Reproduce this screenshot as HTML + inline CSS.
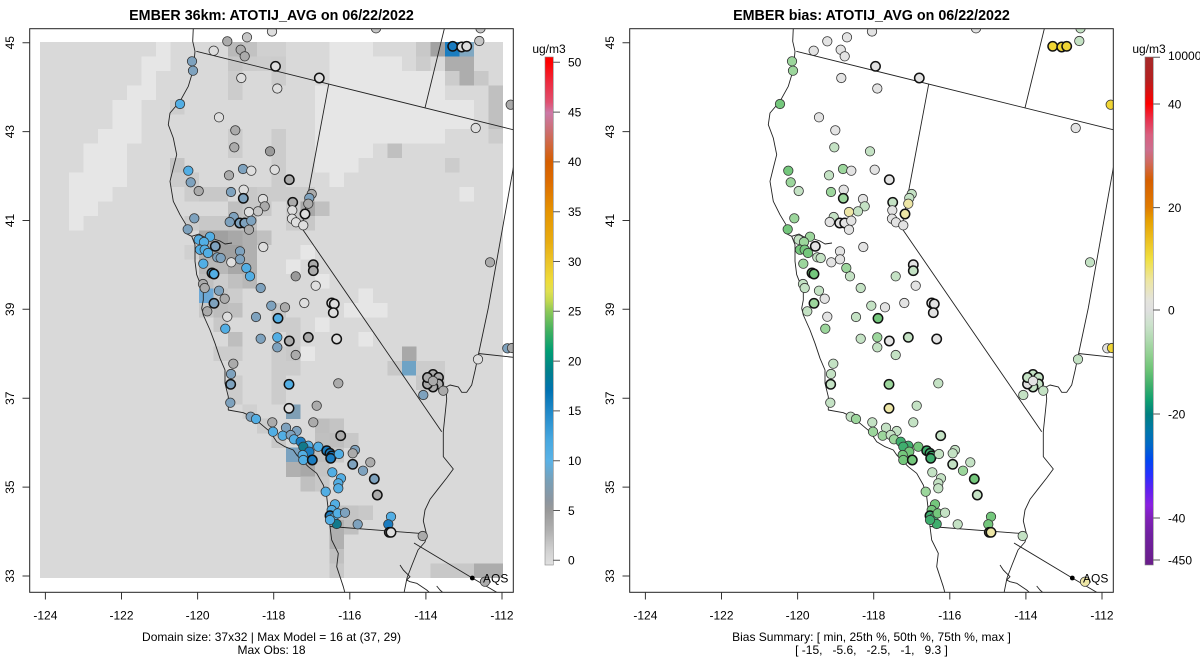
<!DOCTYPE html>
<html><head><meta charset="utf-8"><style>
html,body{margin:0;padding:0;background:#fff}
svg{display:block;font-family:"Liberation Sans",Arial,sans-serif}
circle{stroke:#333;stroke-width:.8}
.k{stroke:#111;stroke-width:1.5}
.a{fill:#9A9A9A}.b{fill:#ABABAB}.c{fill:#C6C6C6}.d{fill:#DEDEDE}.e{fill:#7EA2BE}.f{fill:#52AEE4}.h{fill:#1A7CC0}.t{fill:#127A8C}
.w{fill:#E3E3E3}.l{fill:#C4E2C4}.m{fill:#9CD69C}.n{fill:#74C77C}.o{fill:#3FAE6E}.y{fill:#EDE6A6}.Y{fill:#F0D535}
.map{fill:none;stroke:#222;stroke-width:.9;stroke-linejoin:round}
.tk{stroke:#333;stroke-width:1}
text{font-size:12px;fill:#000}
.ttl{font-size:14.3px;font-weight:bold}
</style></head><body>
<svg width="1200" height="672" viewBox="0 0 1200 672" xmlns="http://www.w3.org/2000/svg">
<defs>
<clipPath id="cl"><rect x="29.7" y="28.7" width="483.6" height="563.6"/></clipPath>
<clipPath id="cr"><rect x="629.7" y="28.7" width="483.6" height="563.6"/></clipPath>
<linearGradient id="gL" x1="0" y1="0" x2="0" y2="1">
<stop offset="0" stop-color="#FF0000"/><stop offset="0.0104" stop-color="#FF0000"/>
<stop offset="0.049" stop-color="#EE2A3E"/><stop offset="0.089" stop-color="#E05070"/>
<stop offset="0.11" stop-color="#CC79A7"/><stop offset="0.147" stop-color="#CC6E6E"/>
<stop offset="0.206" stop-color="#D55E00"/><stop offset="0.2457" stop-color="#DD6C00"/>
<stop offset="0.3045" stop-color="#E69400"/><stop offset="0.3634" stop-color="#E8AC10"/>
<stop offset="0.4026" stop-color="#ECC428"/><stop offset="0.4417" stop-color="#EEDC3A"/>
<stop offset="0.4614" stop-color="#E0E050"/><stop offset="0.481" stop-color="#C0D850"/>
<stop offset="0.5006" stop-color="#8CC858"/><stop offset="0.5398" stop-color="#40B060"/>
<stop offset="0.579" stop-color="#009E73"/><stop offset="0.6183" stop-color="#00808C"/>
<stop offset="0.6575" stop-color="#0072B2"/><stop offset="0.6967" stop-color="#1F88C8"/>
<stop offset="0.7555" stop-color="#48A8E0"/><stop offset="0.7947" stop-color="#5AB2E6"/>
<stop offset="0.834" stop-color="#78A0B8"/><stop offset="0.873" stop-color="#8C96A0"/>
<stop offset="0.8927" stop-color="#999999"/><stop offset="0.932" stop-color="#B0B0B0"/>
<stop offset="0.971" stop-color="#D0D0D0"/><stop offset="1" stop-color="#E0E0E0"/>
</linearGradient>
<linearGradient id="gR" x1="0" y1="0" x2="0" y2="1">
<stop offset="0" stop-color="#A52A2A"/><stop offset="0.045" stop-color="#B52020"/>
<stop offset="0.0925" stop-color="#FF0000"/><stop offset="0.124" stop-color="#E8334F"/>
<stop offset="0.154" stop-color="#D86080"/><stop offset="0.183" stop-color="#CC6E8E"/>
<stop offset="0.207" stop-color="#D06A60"/><stop offset="0.242" stop-color="#D55E00"/>
<stop offset="0.295" stop-color="#E07A00"/><stop offset="0.321" stop-color="#E69F00"/>
<stop offset="0.36" stop-color="#ECC020"/><stop offset="0.398" stop-color="#F0E040"/>
<stop offset="0.439" stop-color="#EEE6A0"/><stop offset="0.478" stop-color="#E4E4DC"/>
<stop offset="0.498" stop-color="#E0E0E0"/><stop offset="0.5275" stop-color="#CCE2CC"/>
<stop offset="0.557" stop-color="#B0DAB0"/><stop offset="0.587" stop-color="#90D090"/>
<stop offset="0.616" stop-color="#6CC476"/><stop offset="0.646" stop-color="#40B06C"/>
<stop offset="0.675" stop-color="#10A070"/><stop offset="0.703" stop-color="#008080"/>
<stop offset="0.734" stop-color="#0078A8"/><stop offset="0.764" stop-color="#0068C8"/>
<stop offset="0.793" stop-color="#0048F0"/><stop offset="0.823" stop-color="#2830FF"/>
<stop offset="0.852" stop-color="#6020F0"/><stop offset="0.882" stop-color="#8A20E0"/>
<stop offset="0.9075" stop-color="#8020B8"/><stop offset="0.941" stop-color="#7020A0"/>
<stop offset="1" stop-color="#6A1E8A"/>
</linearGradient>
</defs>

<text class="ttl" x="271.5" y="20" text-anchor="middle">EMBER 36km: ATOTIJ_AVG on 06/22/2022</text>
<text class="ttl" x="871.5" y="20" text-anchor="middle">EMBER bias: ATOTIJ_AVG on 06/22/2022</text>

<g shape-rendering="crispEdges">
<rect x="40" y="42" width="463.1" height="536.2" fill="#D9D9D9"/>
<g fill="#E6E6E6">
<rect x="155.76" y="42" width="14.5" height="14.55"/>
<rect x="141.29" y="56.49" width="28.97" height="14.55"/>
<rect x="141.29" y="70.98" width="14.5" height="14.55"/>
<rect x="126.82" y="85.47" width="28.97" height="14.55"/>
<rect x="112.35" y="99.96" width="28.97" height="29.03"/>
<rect x="97.88" y="128.94" width="43.44" height="14.55"/>
<rect x="83.41" y="143.43" width="43.44" height="29.03"/>
<rect x="68.94" y="172.41" width="57.91" height="14.55"/>
<rect x="68.94" y="186.9" width="43.44" height="14.55"/>
<rect x="68.94" y="201.39" width="28.97" height="14.55"/>
<rect x="68.94" y="215.88" width="14.5" height="14.55"/>
<rect x="329.4" y="42" width="43.44" height="14.55"/>
<rect x="329.4" y="56.49" width="72.38" height="14.55"/>
<rect x="329.4" y="70.98" width="115.79" height="14.55"/>
<rect x="314.93" y="85.47" width="130.26" height="14.55"/>
<rect x="314.93" y="99.96" width="159.2" height="29.03"/>
<rect x="314.93" y="128.94" width="130.26" height="14.55"/>
<rect x="314.93" y="143.43" width="57.91" height="14.55"/>
<rect x="314.93" y="157.92" width="43.44" height="14.55"/>
<rect x="329.4" y="172.41" width="14.5" height="14.55"/>
<rect x="459.63" y="186.9" width="14.5" height="14.55"/>
<rect x="300.46" y="244.86" width="14.5" height="14.55"/>
<rect x="285.99" y="259.35" width="14.5" height="14.55"/>
<rect x="314.93" y="273.84" width="14.5" height="14.55"/>
<rect x="358.34" y="288.33" width="14.5" height="14.55"/>
<rect x="343.87" y="302.82" width="43.44" height="14.55"/>
<rect x="314.93" y="317.31" width="14.5" height="14.55"/>
<rect x="358.34" y="331.8" width="14.5" height="14.55"/>
<rect x="300.46" y="346.29" width="14.5" height="14.55"/>
</g>
<g>
<rect x="228.11" y="42" width="14.5" height="14.55" fill="#B9B9B9"/>
<rect x="242.58" y="42" width="14.5" height="14.55" fill="#C2C2C2"/>
<rect x="257.05" y="42" width="14.5" height="14.55" fill="#D0D0D0"/>
<rect x="271.52" y="42" width="14.5" height="14.55" fill="#D0D0D0"/>
<rect x="228.11" y="56.49" width="14.5" height="14.55" fill="#C6C6C6"/>
<rect x="242.58" y="56.49" width="14.5" height="14.55" fill="#CCCCCC"/>
<rect x="257.05" y="56.49" width="14.5" height="14.55" fill="#CDCDCD"/>
<rect x="271.52" y="56.49" width="14.5" height="14.55" fill="#CCCCCC"/>
<rect x="228.11" y="70.98" width="14.5" height="14.55" fill="#CCCCCC"/>
<rect x="271.52" y="70.98" width="14.5" height="14.55" fill="#CCCCCC"/>
<rect x="228.11" y="85.47" width="14.5" height="14.55" fill="#CCCCCC"/>
<rect x="416.22" y="42" width="14.5" height="14.55" fill="#C8C8C8"/>
<rect x="430.69" y="42" width="14.5" height="14.55" fill="#A2A2A2"/>
<rect x="445.16" y="42" width="14.5" height="14.55" fill="#1A7DC0"/>
<rect x="459.63" y="42" width="14.5" height="14.55" fill="#80A8C2"/>
<rect x="416.22" y="56.49" width="14.5" height="14.55" fill="#CCCCCC"/>
<rect x="445.16" y="56.49" width="29" height="14.55" fill="#ADADAD"/>
<rect x="445.16" y="70.98" width="14.5" height="14.55" fill="#CCCCCC"/>
<rect x="459.63" y="70.98" width="14.5" height="14.55" fill="#ADADAD"/>
<rect x="474.1" y="70.98" width="14.5" height="14.55" fill="#C8C8C8"/>
<rect x="488.57" y="85.47" width="14.5" height="43.5" fill="#C0C0C0"/>
<rect x="488.57" y="128.94" width="14.5" height="14.55" fill="#CCCCCC"/>
<rect x="387.28" y="143.43" width="14.5" height="14.55" fill="#C0C0C0"/>
<rect x="445.16" y="157.92" width="14.5" height="14.55" fill="#CCCCCC"/>
<rect x="170.23" y="99.96" width="14.5" height="14.55" fill="#CDCDCD"/>
<rect x="170.23" y="157.92" width="14.5" height="14.55" fill="#C4C4C4"/>
<rect x="170.23" y="172.41" width="14.5" height="14.55" fill="#CCCCCC"/>
<rect x="228.11" y="128.94" width="14.5" height="29" fill="#CCCCCC"/>
<rect x="184.7" y="172.41" width="14.5" height="29" fill="#CCCCCC"/>
<rect x="199.17" y="186.9" width="29" height="14.55" fill="#C8C8C8"/>
<rect x="242.58" y="186.9" width="14.5" height="14.55" fill="#C8C8C8"/>
<rect x="257.05" y="186.9" width="14.5" height="14.55" fill="#CCCCCC"/>
<rect x="228.11" y="201.39" width="14.5" height="14.55" fill="#C0C0C0"/>
<rect x="242.58" y="201.39" width="29" height="14.55" fill="#C8C8C8"/>
<rect x="228.11" y="215.88" width="14.5" height="14.55" fill="#C4C4C4"/>
<rect x="242.58" y="215.88" width="14.5" height="14.55" fill="#C0C0C0"/>
<rect x="271.52" y="128.94" width="14.5" height="72.5" fill="#CCCCCC"/>
<rect x="285.99" y="186.9" width="29" height="14.55" fill="#CCCCCC"/>
<rect x="285.99" y="201.39" width="14.5" height="29" fill="#CCCCCC"/>
<rect x="300.46" y="201.39" width="14.5" height="14.55" fill="#A8A8A8"/>
<rect x="314.93" y="201.39" width="14.5" height="14.55" fill="#C0C0C0"/>
<rect x="300.46" y="215.88" width="14.5" height="14.55" fill="#C8C8C8"/>
<rect x="184.7" y="215.88" width="14.5" height="14.55" fill="#CCCCCC"/>
<rect x="199.17" y="215.88" width="29" height="14.55" fill="#C8C8C8"/>
<rect x="199.17" y="230.37" width="14.5" height="14.55" fill="#A8A8A8"/>
<rect x="213.64" y="230.37" width="14.5" height="14.55" fill="#A0A0A0"/>
<rect x="228.11" y="230.37" width="14.5" height="14.55" fill="#A8A8A8"/>
<rect x="242.58" y="230.37" width="14.5" height="14.55" fill="#B0B0B0"/>
<rect x="257.05" y="230.37" width="14.5" height="14.55" fill="#C0C0C0"/>
<rect x="184.7" y="244.86" width="14.5" height="14.55" fill="#D0D0D0"/>
<rect x="199.17" y="244.86" width="14.5" height="14.55" fill="#B0B0B0"/>
<rect x="213.64" y="244.86" width="29" height="14.55" fill="#A0A0A0"/>
<rect x="242.58" y="244.86" width="14.5" height="14.55" fill="#B0B0B0"/>
<rect x="199.17" y="259.35" width="29" height="14.55" fill="#B8B8B8"/>
<rect x="228.11" y="259.35" width="14.5" height="14.55" fill="#A8A8A8"/>
<rect x="242.58" y="259.35" width="14.5" height="14.55" fill="#B0B0B0"/>
<rect x="199.17" y="273.84" width="14.5" height="14.55" fill="#C0C0C0"/>
<rect x="213.64" y="273.84" width="14.5" height="14.55" fill="#CCCCCC"/>
<rect x="228.11" y="273.84" width="14.5" height="14.55" fill="#C0C0C0"/>
<rect x="242.58" y="273.84" width="14.5" height="14.55" fill="#B8B8B8"/>
<rect x="199.17" y="288.33" width="14.5" height="14.55" fill="#6CA8D6"/>
<rect x="213.64" y="288.33" width="14.5" height="14.55" fill="#C8C8C8"/>
<rect x="228.11" y="288.33" width="14.5" height="14.55" fill="#CCCCCC"/>
<rect x="199.17" y="302.82" width="14.5" height="14.55" fill="#C8C8C8"/>
<rect x="213.64" y="302.82" width="14.5" height="14.55" fill="#BDBDBD"/>
<rect x="228.11" y="302.82" width="14.5" height="14.55" fill="#C0C0C0"/>
<rect x="271.52" y="302.82" width="14.5" height="14.55" fill="#C8C8C8"/>
<rect x="213.64" y="317.31" width="14.5" height="14.55" fill="#C8C8C8"/>
<rect x="271.52" y="317.31" width="29" height="14.55" fill="#CCCCCC"/>
<rect x="228.11" y="331.8" width="14.5" height="14.55" fill="#BEBEBE"/>
<rect x="285.99" y="331.8" width="14.5" height="14.55" fill="#CCCCCC"/>
<rect x="213.64" y="346.29" width="29" height="14.55" fill="#CCCCCC"/>
<rect x="271.52" y="346.29" width="14.5" height="14.55" fill="#CCCCCC"/>
<rect x="285.99" y="346.29" width="14.5" height="14.55" fill="#C8C8C8"/>
<rect x="401.75" y="346.29" width="14.5" height="14.55" fill="#A8A8A8"/>
<rect x="271.52" y="360.78" width="29" height="14.55" fill="#CCCCCC"/>
<rect x="387.28" y="360.78" width="14.5" height="14.55" fill="#C8C8C8"/>
<rect x="401.75" y="360.78" width="14.5" height="14.55" fill="#6FA3C5"/>
<rect x="416.22" y="360.78" width="29" height="14.55" fill="#CCCCCC"/>
<rect x="228.11" y="375.27" width="14.5" height="29" fill="#CCCCCC"/>
<rect x="271.52" y="375.27" width="14.5" height="29" fill="#CCCCCC"/>
<rect x="416.22" y="375.27" width="29" height="14.55" fill="#C8C8C8"/>
<rect x="242.58" y="404.25" width="14.5" height="14.55" fill="#D0D0D0"/>
<rect x="285.99" y="404.25" width="14.5" height="14.55" fill="#7F9FB5"/>
<rect x="257.05" y="418.74" width="14.5" height="14.55" fill="#CCCCCC"/>
<rect x="314.93" y="418.74" width="14.5" height="14.55" fill="#BEBEBE"/>
<rect x="329.4" y="418.74" width="14.5" height="14.55" fill="#C4C4C4"/>
<rect x="271.52" y="433.23" width="14.5" height="14.55" fill="#C8C8C8"/>
<rect x="314.93" y="433.23" width="14.5" height="14.55" fill="#C0C0C0"/>
<rect x="329.4" y="433.23" width="14.5" height="14.55" fill="#BEBEBE"/>
<rect x="343.87" y="433.23" width="14.5" height="14.55" fill="#C8C8C8"/>
<rect x="285.99" y="447.72" width="14.5" height="14.55" fill="#7AA2C0"/>
<rect x="300.46" y="447.72" width="14.5" height="29" fill="#A8A8A8"/>
<rect x="314.93" y="447.72" width="14.5" height="14.55" fill="#BEBEBE"/>
<rect x="329.4" y="447.72" width="14.5" height="14.55" fill="#C8C8C8"/>
<rect x="285.99" y="462.21" width="14.5" height="14.55" fill="#B0B0B0"/>
<rect x="314.93" y="462.21" width="14.5" height="14.55" fill="#C4C4C4"/>
<rect x="300.46" y="476.7" width="14.5" height="14.55" fill="#C0C0C0"/>
<rect x="314.93" y="476.7" width="14.5" height="14.55" fill="#C8C8C8"/>
<rect x="329.4" y="505.68" width="14.5" height="14.55" fill="#C0C0C0"/>
<rect x="343.87" y="505.68" width="14.5" height="14.55" fill="#C4C4C4"/>
<rect x="358.34" y="505.68" width="14.5" height="14.55" fill="#C8C8C8"/>
<rect x="329.4" y="520.17" width="14.5" height="29" fill="#B0B0B0"/>
<rect x="343.87" y="520.17" width="14.5" height="14.55" fill="#C0C0C0"/>
<rect x="329.4" y="549.15" width="14.5" height="14.55" fill="#C0C0C0"/>
<rect x="329.4" y="563.64" width="14.5" height="14.5" fill="#C8C8C8"/>
<rect x="430.69" y="563.64" width="43.45" height="14.5" fill="#C8C8C8"/>
<rect x="474.1" y="563.64" width="28.95" height="14.5" fill="#ACACAC"/>
</g>
</g>

<g clip-path="url(#cl)" class="map">
<path d="M193.3,28 L192.7,41.3 L195,51.3 L193.3,69.7 L188.3,86.3 L180,101.3 L170,113 L168.3,124.7 L173.3,138 L176.7,154.7 L173.3,168 L170,181.3 L173.3,201.3 L180,214.7 L186,224.7 L185,233 L191.7,236.3 L195,244.7 L195,261.3 L196.7,274.7 L203.3,291.3 L203.3,300 L201.7,308.3 L203.3,315 L210,330 L215,343.3 L220,358.3 L225,370 L225,383.3 L228.3,396.7 L228.3,410 L243.3,412.7 L251.7,416.7 L260,423.3 L270,431.7 L276.7,441.7 L285,446.7 L293.3,450 L296.7,455 L308.3,466.7 L316.7,473.3 L323.3,485 L326.7,496.7 L328.3,510 L330,526.7 L331.7,540 L338.3,553.3 L336.7,566.7 L343.3,586.7 L345,593"/>
<path d="M191.7,236.3 L199,234 L204,237 L210,235 L214,239 L220,241 L225,244 L232,243 M204,237 L206,244 L211,250 L208,254"/>
<path d="M196.3,51.3 L514,129.9 M328.7,84.1 L301.7,228 L441.7,431.7 M425,107.9 L444.5,28 M514,164 L488.3,308 L478.3,355 M478.3,353.5 L514,357.4"/>
<path d="M478.3,355 L475,370.9 L471.7,385 L466.7,392.3 L461.7,392.3 L458.3,386.9 L450,385 L446,387 L446.7,399 L443.3,431.6 L443.3,456.6 L453.3,469 L446.7,478 L438.3,488.7 L430,499.4 L425,510 L423.3,520.9 L426.7,535 L425,542 L418,550 L412,565 L407,578 L404,593"/>
<path d="M330,526.5 L419,533.3 L425,537 M414,543 L472.3,578 L515,603 M400,565 L403.3,570 L410,576.7 L406.7,580 L410,581.7 L416.7,583.3 L426.7,590 L430,593 M436.7,586 L440,590 L443.3,593"/>
</g>

<g clip-path="url(#cr)"><g transform="translate(600,0)" class="map">
<path d="M193.3,28 L192.7,41.3 L195,51.3 L193.3,69.7 L188.3,86.3 L180,101.3 L170,113 L168.3,124.7 L173.3,138 L176.7,154.7 L173.3,168 L170,181.3 L173.3,201.3 L180,214.7 L186,224.7 L185,233 L191.7,236.3 L195,244.7 L195,261.3 L196.7,274.7 L203.3,291.3 L203.3,300 L201.7,308.3 L203.3,315 L210,330 L215,343.3 L220,358.3 L225,370 L225,383.3 L228.3,396.7 L228.3,410 L243.3,412.7 L251.7,416.7 L260,423.3 L270,431.7 L276.7,441.7 L285,446.7 L293.3,450 L296.7,455 L308.3,466.7 L316.7,473.3 L323.3,485 L326.7,496.7 L328.3,510 L330,526.7 L331.7,540 L338.3,553.3 L336.7,566.7 L343.3,586.7 L345,593"/>
<path d="M191.7,236.3 L199,234 L204,237 L210,235 L214,239 L220,241 L225,244 L232,243 M204,237 L206,244 L211,250 L208,254"/>
<path d="M196.3,51.3 L514,129.9 M328.7,84.1 L301.7,228 L441.7,431.7 M425,107.9 L444.5,28 M514,164 L488.3,308 L478.3,355 M478.3,353.5 L514,357.4"/>
<path d="M478.3,355 L475,370.9 L471.7,385 L466.7,392.3 L461.7,392.3 L458.3,386.9 L450,385 L446,387 L446.7,399 L443.3,431.6 L443.3,456.6 L453.3,469 L446.7,478 L438.3,488.7 L430,499.4 L425,510 L423.3,520.9 L426.7,535 L425,542 L418,550 L412,565 L407,578 L404,593"/>
<path d="M330,526.5 L419,533.3 L425,537 M414,543 L472.3,578 L515,603 M400,565 L403.3,570 L410,576.7 L406.7,580 L410,581.7 L416.7,583.3 L426.7,590 L430,593 M436.7,586 L440,590 L443.3,593"/>
</g></g>

<g clip-path="url(#cl)">
<circle cx="272" cy="31.5" r="4.7" class="d"/>
<circle cx="227.3" cy="41.3" r="4.7" class="b"/>
<circle cx="247" cy="37.3" r="4.7" class="c"/>
<circle cx="213.7" cy="50.7" r="4.7" class="d"/>
<circle cx="240.7" cy="49.7" r="4.7" class="b"/>
<circle cx="244.7" cy="56.3" r="4.7" class="b"/>
<circle cx="275.5" cy="66.3" r="4.7" class="d k"/>
<circle cx="192" cy="61.3" r="4.7" class="e"/>
<circle cx="193" cy="70.7" r="4.7" class="e"/>
<circle cx="241.3" cy="78" r="4.7" class="d"/>
<circle cx="319.3" cy="78" r="4.7" class="d k"/>
<circle cx="277.3" cy="88.5" r="4.7" class="d"/>
<circle cx="180" cy="104" r="4.7" class="f"/>
<circle cx="219" cy="117.3" r="4.7" class="d"/>
<circle cx="235.3" cy="130.3" r="4.7" class="b"/>
<circle cx="234.3" cy="147.3" r="4.7" class="b"/>
<circle cx="270" cy="151.3" r="4.7" class="a"/>
<circle cx="188.3" cy="170.7" r="4.7" class="f"/>
<circle cx="190.7" cy="182.3" r="4.7" class="e"/>
<circle cx="229" cy="175.3" r="4.7" class="b"/>
<circle cx="243" cy="169" r="4.7" class="e"/>
<circle cx="251.3" cy="170.7" r="4.7" class="d"/>
<circle cx="274.7" cy="169.7" r="4.7" class="d"/>
<circle cx="289.3" cy="179.7" r="4.7" class="b k"/>
<circle cx="198.7" cy="191" r="4.7" class="b"/>
<circle cx="231" cy="192" r="4.7" class="e"/>
<circle cx="243.7" cy="189.7" r="4.7" class="d"/>
<circle cx="243.3" cy="198.3" r="4.7" class="e k"/>
<circle cx="263" cy="199" r="4.7" class="d"/>
<circle cx="264.7" cy="206.3" r="4.7" class="b"/>
<circle cx="258" cy="211.3" r="4.7" class="c"/>
<circle cx="249" cy="212" r="4.7" class="d"/>
<circle cx="233.7" cy="217" r="4.7" class="e"/>
<circle cx="229.7" cy="222" r="4.7" class="e"/>
<circle cx="239.7" cy="223" r="4.7" class="e k"/>
<circle cx="244.7" cy="223" r="4.7" class="e k"/>
<circle cx="251.3" cy="220.7" r="4.7" class="e"/>
<circle cx="249" cy="229.7" r="4.7" class="b"/>
<circle cx="311.7" cy="194" r="4.7" class="b"/>
<circle cx="309.3" cy="198" r="4.7" class="e"/>
<circle cx="308.3" cy="203.7" r="4.7" class="b"/>
<circle cx="292.7" cy="202.3" r="4.7" class="b k"/>
<circle cx="292.3" cy="210.3" r="4.7" class="d"/>
<circle cx="305" cy="214" r="4.7" class="d k"/>
<circle cx="292" cy="218.7" r="4.7" class="d"/>
<circle cx="296" cy="222.3" r="4.7" class="d"/>
<circle cx="303.3" cy="225.3" r="4.7" class="d"/>
<circle cx="194.3" cy="218.3" r="4.7" class="e"/>
<circle cx="187.7" cy="229.3" r="4.7" class="e"/>
<circle cx="198.7" cy="239.7" r="4.7" class="f"/>
<circle cx="210" cy="236.7" r="4.7" class="f"/>
<circle cx="204" cy="242" r="4.7" class="f"/>
<circle cx="200" cy="249.7" r="4.7" class="f"/>
<circle cx="204.7" cy="249.7" r="4.7" class="f"/>
<circle cx="208" cy="253" r="4.7" class="f"/>
<circle cx="215.3" cy="246.3" r="4.7" class="e k"/>
<circle cx="217.3" cy="257.3" r="4.7" class="e"/>
<circle cx="220.7" cy="258" r="4.7" class="e"/>
<circle cx="231.3" cy="262.3" r="4.7" class="d"/>
<circle cx="240" cy="251.3" r="4.7" class="e"/>
<circle cx="240" cy="259.3" r="4.7" class="e"/>
<circle cx="263.3" cy="247" r="4.7" class="d"/>
<circle cx="203.3" cy="263.7" r="4.7" class="f"/>
<circle cx="246.3" cy="268" r="4.7" class="f"/>
<circle cx="250" cy="276.3" r="4.7" class="f"/>
<circle cx="212" cy="273" r="4.7" class="f k"/>
<circle cx="214" cy="274" r="4.7" class="f k"/>
<circle cx="203" cy="284" r="4.7" class="b"/>
<circle cx="204.7" cy="288" r="4.7" class="b"/>
<circle cx="219" cy="290.7" r="4.7" class="e"/>
<circle cx="224.7" cy="298.7" r="4.7" class="b"/>
<circle cx="214" cy="303.3" r="4.7" class="e k"/>
<circle cx="260.7" cy="288" r="4.7" class="e"/>
<circle cx="271.3" cy="305.7" r="4.7" class="e"/>
<circle cx="285" cy="307.3" r="4.7" class="b"/>
<circle cx="304.3" cy="303" r="4.7" class="d"/>
<circle cx="313.3" cy="264.7" r="4.7" class="b k"/>
<circle cx="313.3" cy="270.7" r="4.7" class="b k"/>
<circle cx="295.7" cy="276.3" r="4.7" class="a"/>
<circle cx="315.7" cy="285.7" r="4.7" class="d"/>
<circle cx="331.7" cy="303" r="4.7" class="d k"/>
<circle cx="334.3" cy="304" r="4.7" class="d k"/>
<circle cx="333.3" cy="312.7" r="4.7" class="d k"/>
<circle cx="376" cy="28.3" r="4.7" class="c"/>
<circle cx="480.5" cy="28.3" r="4.7" class="c"/>
<circle cx="479.3" cy="41" r="4.7" class="c"/>
<circle cx="452.7" cy="46.3" r="4.7" class="h k"/>
<circle cx="461.7" cy="47" r="4.7" class="d k"/>
<circle cx="466.7" cy="46.3" r="4.7" class="d k"/>
<circle cx="510.7" cy="104.7" r="4.7" class="b"/>
<circle cx="475.7" cy="128" r="4.7" class="d"/>
<circle cx="490" cy="262.3" r="4.7" class="b"/>
<circle cx="507.3" cy="348.3" r="4.7" class="e"/>
<circle cx="512" cy="348" r="4.7" class="b"/>
<circle cx="478" cy="359.3" r="4.7" class="d"/>
<circle cx="433" cy="374.5" r="4.7" class="b k"/>
<circle cx="438.5" cy="377.5" r="4.7" class="b k"/>
<circle cx="438.5" cy="384" r="4.7" class="b k"/>
<circle cx="433" cy="387" r="4.7" class="b k"/>
<circle cx="427.5" cy="384" r="4.7" class="b k"/>
<circle cx="427.5" cy="377.5" r="4.7" class="b k"/>
<circle cx="433" cy="381" r="4.7" class="b"/>
<circle cx="423.3" cy="395" r="4.7" class="e"/>
<circle cx="443.3" cy="390.7" r="4.7" class="b"/>
<circle cx="422.7" cy="536" r="4.7" class="b"/>
<circle cx="485" cy="581.7" r="4.7" class="b"/>
<circle cx="207.3" cy="311.3" r="4.7" class="b"/>
<circle cx="227.3" cy="316.7" r="4.7" class="d"/>
<circle cx="256" cy="317" r="4.7" class="e"/>
<circle cx="278" cy="318.3" r="4.7" class="f k"/>
<circle cx="225.3" cy="328.7" r="4.7" class="f"/>
<circle cx="260.7" cy="338.7" r="4.7" class="e"/>
<circle cx="277.3" cy="337.3" r="4.7" class="f"/>
<circle cx="277.3" cy="347.3" r="4.7" class="e"/>
<circle cx="233.3" cy="363.7" r="4.7" class="b"/>
<circle cx="231" cy="374" r="4.7" class="e"/>
<circle cx="230.7" cy="384.3" r="4.7" class="e k"/>
<circle cx="230.3" cy="402.7" r="4.7" class="e"/>
<circle cx="250.7" cy="416.7" r="4.7" class="e"/>
<circle cx="256" cy="419" r="4.7" class="f"/>
<circle cx="272.3" cy="422.3" r="4.7" class="b"/>
<circle cx="273" cy="431.7" r="4.7" class="f"/>
<circle cx="289.3" cy="341" r="4.7" class="b k"/>
<circle cx="308.3" cy="337.3" r="4.7" class="b k"/>
<circle cx="336.7" cy="339" r="4.7" class="d k"/>
<circle cx="295.7" cy="355" r="4.7" class="b"/>
<circle cx="289" cy="384.3" r="4.7" class="f k"/>
<circle cx="338.3" cy="383.3" r="4.7" class="b"/>
<circle cx="289" cy="408.3" r="4.7" class="d k"/>
<circle cx="316.7" cy="405.7" r="4.7" class="b"/>
<circle cx="313.3" cy="422.3" r="4.7" class="b"/>
<circle cx="286" cy="427.7" r="4.7" class="e"/>
<circle cx="296.7" cy="431" r="4.7" class="e"/>
<circle cx="282.7" cy="435.7" r="4.7" class="f"/>
<circle cx="290.7" cy="435" r="4.7" class="e"/>
<circle cx="294" cy="439.3" r="4.7" class="f"/>
<circle cx="300.7" cy="441.7" r="4.7" class="h"/>
<circle cx="308.3" cy="445.7" r="4.7" class="f"/>
<circle cx="303.3" cy="446.7" r="4.7" class="t"/>
<circle cx="309.3" cy="451.7" r="4.7" class="h"/>
<circle cx="302.7" cy="455" r="4.7" class="f"/>
<circle cx="303.3" cy="460" r="4.7" class="f"/>
<circle cx="312.3" cy="460" r="4.7" class="h k"/>
<circle cx="318.3" cy="446.7" r="4.7" class="f"/>
<circle cx="326.7" cy="450.7" r="4.7" class="h k"/>
<circle cx="330" cy="453.3" r="4.7" class="h k"/>
<circle cx="331.7" cy="456" r="4.7" class="h k"/>
<circle cx="330.7" cy="458.3" r="4.7" class="h k"/>
<circle cx="339" cy="454" r="4.7" class="f"/>
<circle cx="340.7" cy="435.7" r="4.7" class="b k"/>
<circle cx="355" cy="450" r="4.7" class="e"/>
<circle cx="352.7" cy="453.3" r="4.7" class="b"/>
<circle cx="352.7" cy="464.3" r="4.7" class="e k"/>
<circle cx="370.3" cy="462.3" r="4.7" class="b"/>
<circle cx="332.3" cy="472.3" r="4.7" class="f"/>
<circle cx="363" cy="470.7" r="4.7" class="e"/>
<circle cx="341" cy="478.3" r="4.7" class="f"/>
<circle cx="338.3" cy="483.3" r="4.7" class="f"/>
<circle cx="338.3" cy="488.3" r="4.7" class="f"/>
<circle cx="374.3" cy="479" r="4.7" class="e k"/>
<circle cx="325.7" cy="491.7" r="4.7" class="f"/>
<circle cx="377.3" cy="495" r="4.7" class="b k"/>
<circle cx="335" cy="504.3" r="4.7" class="f"/>
<circle cx="331.7" cy="510" r="4.7" class="f"/>
<circle cx="330" cy="515.7" r="4.7" class="h k"/>
<circle cx="333.3" cy="518.3" r="4.7" class="f"/>
<circle cx="337.7" cy="513.3" r="4.7" class="f"/>
<circle cx="345" cy="512.7" r="4.7" class="e"/>
<circle cx="336.7" cy="524" r="4.7" class="t"/>
<circle cx="330" cy="520" r="4.7" class="f"/>
<circle cx="357.7" cy="524.3" r="4.7" class="e"/>
<circle cx="391" cy="516.7" r="4.7" class="f"/>
<circle cx="388.3" cy="524.3" r="4.7" class="h"/>
<circle cx="389.3" cy="532.3" r="4.7" class="d k"/>
<circle cx="391" cy="532.3" r="4.7" class="d k"/>
</g>

<g clip-path="url(#cr)"><g transform="translate(600,0)">
<circle cx="272" cy="31.5" r="4.7" class="w"/>
<circle cx="227.3" cy="41.3" r="4.7" class="w"/>
<circle cx="247" cy="37.3" r="4.7" class="w"/>
<circle cx="213.7" cy="50.7" r="4.7" class="w"/>
<circle cx="240.7" cy="49.7" r="4.7" class="w"/>
<circle cx="244.7" cy="56.3" r="4.7" class="w"/>
<circle cx="275.5" cy="66.3" r="4.7" class="w k"/>
<circle cx="192" cy="61.3" r="4.7" class="m"/>
<circle cx="193" cy="70.7" r="4.7" class="m"/>
<circle cx="241.3" cy="78" r="4.7" class="w"/>
<circle cx="319.3" cy="78" r="4.7" class="w k"/>
<circle cx="277.3" cy="88.5" r="4.7" class="w"/>
<circle cx="180" cy="104" r="4.7" class="n"/>
<circle cx="219" cy="117.3" r="4.7" class="w"/>
<circle cx="235.3" cy="130.3" r="4.7" class="w"/>
<circle cx="234.3" cy="147.3" r="4.7" class="l"/>
<circle cx="270" cy="151.3" r="4.7" class="l"/>
<circle cx="188.3" cy="170.7" r="4.7" class="n"/>
<circle cx="190.7" cy="182.3" r="4.7" class="m"/>
<circle cx="229" cy="175.3" r="4.7" class="l"/>
<circle cx="243" cy="169" r="4.7" class="m"/>
<circle cx="251.3" cy="170.7" r="4.7" class="w"/>
<circle cx="274.7" cy="169.7" r="4.7" class="w"/>
<circle cx="289.3" cy="179.7" r="4.7" class="w k"/>
<circle cx="198.7" cy="191" r="4.7" class="l"/>
<circle cx="231" cy="192" r="4.7" class="m"/>
<circle cx="243.7" cy="189.7" r="4.7" class="w"/>
<circle cx="243.3" cy="198.3" r="4.7" class="m k"/>
<circle cx="263" cy="199" r="4.7" class="w"/>
<circle cx="264.7" cy="206.3" r="4.7" class="l"/>
<circle cx="258" cy="211.3" r="4.7" class="l"/>
<circle cx="249" cy="212" r="4.7" class="y"/>
<circle cx="233.7" cy="217" r="4.7" class="l"/>
<circle cx="229.7" cy="222" r="4.7" class="w"/>
<circle cx="239.7" cy="223" r="4.7" class="w k"/>
<circle cx="244.7" cy="223" r="4.7" class="w k"/>
<circle cx="251.3" cy="220.7" r="4.7" class="w"/>
<circle cx="249" cy="229.7" r="4.7" class="w"/>
<circle cx="311.7" cy="194" r="4.7" class="l"/>
<circle cx="309.3" cy="198" r="4.7" class="l"/>
<circle cx="308.3" cy="203.7" r="4.7" class="y"/>
<circle cx="292.7" cy="202.3" r="4.7" class="l k"/>
<circle cx="292.3" cy="210.3" r="4.7" class="w"/>
<circle cx="305" cy="214" r="4.7" class="y k"/>
<circle cx="292" cy="218.7" r="4.7" class="w"/>
<circle cx="296" cy="222.3" r="4.7" class="w"/>
<circle cx="303.3" cy="225.3" r="4.7" class="w"/>
<circle cx="194.3" cy="218.3" r="4.7" class="m"/>
<circle cx="187.7" cy="229.3" r="4.7" class="n"/>
<circle cx="198.7" cy="239.7" r="4.7" class="l"/>
<circle cx="210" cy="236.7" r="4.7" class="m"/>
<circle cx="204" cy="242" r="4.7" class="m"/>
<circle cx="200" cy="249.7" r="4.7" class="n"/>
<circle cx="204.7" cy="249.7" r="4.7" class="n"/>
<circle cx="208" cy="253" r="4.7" class="n"/>
<circle cx="215.3" cy="246.3" r="4.7" class="w k"/>
<circle cx="217.3" cy="257.3" r="4.7" class="l"/>
<circle cx="220.7" cy="258" r="4.7" class="l"/>
<circle cx="231.3" cy="262.3" r="4.7" class="w"/>
<circle cx="240" cy="251.3" r="4.7" class="w"/>
<circle cx="240" cy="259.3" r="4.7" class="w"/>
<circle cx="263.3" cy="247" r="4.7" class="w"/>
<circle cx="203.3" cy="263.7" r="4.7" class="m"/>
<circle cx="246.3" cy="268" r="4.7" class="m"/>
<circle cx="250" cy="276.3" r="4.7" class="l"/>
<circle cx="212" cy="273" r="4.7" class="n k"/>
<circle cx="214" cy="274" r="4.7" class="n k"/>
<circle cx="203" cy="284" r="4.7" class="l"/>
<circle cx="204.7" cy="288" r="4.7" class="l"/>
<circle cx="219" cy="290.7" r="4.7" class="l"/>
<circle cx="224.7" cy="298.7" r="4.7" class="w"/>
<circle cx="214" cy="303.3" r="4.7" class="m k"/>
<circle cx="260.7" cy="288" r="4.7" class="l"/>
<circle cx="271.3" cy="305.7" r="4.7" class="l"/>
<circle cx="285" cy="307.3" r="4.7" class="w"/>
<circle cx="304.3" cy="303" r="4.7" class="w"/>
<circle cx="313.3" cy="264.7" r="4.7" class="w k"/>
<circle cx="313.3" cy="270.7" r="4.7" class="l k"/>
<circle cx="295.7" cy="276.3" r="4.7" class="l"/>
<circle cx="315.7" cy="285.7" r="4.7" class="w"/>
<circle cx="331.7" cy="303" r="4.7" class="w k"/>
<circle cx="334.3" cy="304" r="4.7" class="w k"/>
<circle cx="333.3" cy="312.7" r="4.7" class="w k"/>
<circle cx="376" cy="28.3" r="4.7" class="w"/>
<circle cx="480.5" cy="28.3" r="4.7" class="l"/>
<circle cx="479.3" cy="41" r="4.7" class="l"/>
<circle cx="452.7" cy="46.3" r="4.7" class="Y k"/>
<circle cx="461.7" cy="47" r="4.7" class="Y k"/>
<circle cx="466.7" cy="46.3" r="4.7" class="Y k"/>
<circle cx="510.7" cy="104.7" r="4.7" class="Y"/>
<circle cx="475.7" cy="128" r="4.7" class="w"/>
<circle cx="490" cy="262.3" r="4.7" class="l"/>
<circle cx="507.3" cy="348.3" r="4.7" class="w"/>
<circle cx="512" cy="348" r="4.7" class="Y"/>
<circle cx="478" cy="359.3" r="4.7" class="l"/>
<circle cx="433" cy="374.5" r="4.7" class="l k"/>
<circle cx="438.5" cy="377.5" r="4.7" class="l k"/>
<circle cx="438.5" cy="384" r="4.7" class="l k"/>
<circle cx="433" cy="387" r="4.7" class="l k"/>
<circle cx="427.5" cy="384" r="4.7" class="w k"/>
<circle cx="427.5" cy="377.5" r="4.7" class="l k"/>
<circle cx="433" cy="381" r="4.7" class="w"/>
<circle cx="423.3" cy="395" r="4.7" class="l"/>
<circle cx="443.3" cy="390.7" r="4.7" class="l"/>
<circle cx="422.7" cy="536" r="4.7" class="l"/>
<circle cx="485" cy="581.7" r="4.7" class="y"/>
<circle cx="207.3" cy="311.3" r="4.7" class="l"/>
<circle cx="227.3" cy="316.7" r="4.7" class="w"/>
<circle cx="256" cy="317" r="4.7" class="l"/>
<circle cx="278" cy="318.3" r="4.7" class="n k"/>
<circle cx="225.3" cy="328.7" r="4.7" class="m"/>
<circle cx="260.7" cy="338.7" r="4.7" class="l"/>
<circle cx="277.3" cy="337.3" r="4.7" class="m"/>
<circle cx="277.3" cy="347.3" r="4.7" class="l"/>
<circle cx="233.3" cy="363.7" r="4.7" class="l"/>
<circle cx="231" cy="374" r="4.7" class="l"/>
<circle cx="230.7" cy="384.3" r="4.7" class="l k"/>
<circle cx="230.3" cy="402.7" r="4.7" class="l"/>
<circle cx="250.7" cy="416.7" r="4.7" class="l"/>
<circle cx="256" cy="419" r="4.7" class="m"/>
<circle cx="272.3" cy="422.3" r="4.7" class="l"/>
<circle cx="273" cy="431.7" r="4.7" class="m"/>
<circle cx="289.3" cy="341" r="4.7" class="w k"/>
<circle cx="308.3" cy="337.3" r="4.7" class="l k"/>
<circle cx="336.7" cy="339" r="4.7" class="w k"/>
<circle cx="295.7" cy="355" r="4.7" class="l"/>
<circle cx="289" cy="384.3" r="4.7" class="m k"/>
<circle cx="338.3" cy="383.3" r="4.7" class="l"/>
<circle cx="289" cy="408.3" r="4.7" class="y k"/>
<circle cx="316.7" cy="405.7" r="4.7" class="l"/>
<circle cx="313.3" cy="422.3" r="4.7" class="l"/>
<circle cx="286" cy="427.7" r="4.7" class="l"/>
<circle cx="296.7" cy="431" r="4.7" class="l"/>
<circle cx="282.7" cy="435.7" r="4.7" class="m"/>
<circle cx="290.7" cy="435" r="4.7" class="l"/>
<circle cx="294" cy="439.3" r="4.7" class="m"/>
<circle cx="300.7" cy="441.7" r="4.7" class="o"/>
<circle cx="308.3" cy="445.7" r="4.7" class="o"/>
<circle cx="303.3" cy="446.7" r="4.7" class="o"/>
<circle cx="309.3" cy="451.7" r="4.7" class="n"/>
<circle cx="302.7" cy="455" r="4.7" class="n"/>
<circle cx="303.3" cy="460" r="4.7" class="n"/>
<circle cx="312.3" cy="460" r="4.7" class="n k"/>
<circle cx="318.3" cy="446.7" r="4.7" class="n"/>
<circle cx="326.7" cy="450.7" r="4.7" class="o k"/>
<circle cx="330" cy="453.3" r="4.7" class="o k"/>
<circle cx="331.7" cy="456" r="4.7" class="o k"/>
<circle cx="330.7" cy="458.3" r="4.7" class="o k"/>
<circle cx="339" cy="454" r="4.7" class="l"/>
<circle cx="340.7" cy="435.7" r="4.7" class="l k"/>
<circle cx="355" cy="450" r="4.7" class="l"/>
<circle cx="352.7" cy="453.3" r="4.7" class="l"/>
<circle cx="352.7" cy="464.3" r="4.7" class="l k"/>
<circle cx="370.3" cy="462.3" r="4.7" class="l"/>
<circle cx="332.3" cy="472.3" r="4.7" class="l"/>
<circle cx="363" cy="470.7" r="4.7" class="m"/>
<circle cx="341" cy="478.3" r="4.7" class="l"/>
<circle cx="338.3" cy="483.3" r="4.7" class="l"/>
<circle cx="338.3" cy="488.3" r="4.7" class="l"/>
<circle cx="374.3" cy="479" r="4.7" class="n k"/>
<circle cx="325.7" cy="491.7" r="4.7" class="m"/>
<circle cx="377.3" cy="495" r="4.7" class="l k"/>
<circle cx="335" cy="504.3" r="4.7" class="n"/>
<circle cx="331.7" cy="510" r="4.7" class="n"/>
<circle cx="330" cy="515.7" r="4.7" class="o k"/>
<circle cx="333.3" cy="518.3" r="4.7" class="o"/>
<circle cx="337.7" cy="513.3" r="4.7" class="n"/>
<circle cx="345" cy="512.7" r="4.7" class="l"/>
<circle cx="336.7" cy="524" r="4.7" class="o"/>
<circle cx="330" cy="520" r="4.7" class="o"/>
<circle cx="357.7" cy="524.3" r="4.7" class="l"/>
<circle cx="391" cy="516.7" r="4.7" class="n"/>
<circle cx="388.3" cy="524.3" r="4.7" class="n"/>
<circle cx="389.3" cy="532.3" r="4.7" class="y k"/>
<circle cx="391" cy="532.3" r="4.7" class="y k"/>
</g></g>

<circle cx="472.3" cy="578" r="2.4" style="fill:#000;stroke:none"/>
<text x="483" y="582.5">AQS</text>
<circle cx="1072.3" cy="578" r="2.4" style="fill:#000;stroke:none"/>
<text x="1083" y="582.5">AQS</text>

<rect x="29.7" y="28.7" width="483.6" height="563.6" fill="none" stroke="#222" stroke-width="1"/>
<rect x="629.7" y="28.7" width="483.6" height="563.6" fill="none" stroke="#222" stroke-width="1"/>

<g class="tk">
<path d="M45.4,592.3V599.5M121.5,592.3V599.5M197.6,592.3V599.5M273.7,592.3V599.5M349.8,592.3V599.5M425.9,592.3V599.5M502,592.3V599.5"/>
<path d="M29.7,42.7H22.5M29.7,131.6H22.5M29.7,220.5H22.5M29.7,309.3H22.5M29.7,398.2H22.5M29.7,487.1H22.5M29.7,576H22.5"/>
<path d="M645.4,592.3V599.5M721.5,592.3V599.5M797.6,592.3V599.5M873.7,592.3V599.5M949.8,592.3V599.5M1025.9,592.3V599.5M1102,592.3V599.5"/>
<path d="M629.7,42.7H622.5M629.7,131.6H622.5M629.7,220.5H622.5M629.7,309.3H622.5M629.7,398.2H622.5M629.7,487.1H622.5M629.7,576H622.5"/>
</g>
<g text-anchor="middle">
<text x="45.4" y="619.5">-124</text><text x="121.5" y="619.5">-122</text><text x="197.6" y="619.5">-120</text><text x="273.7" y="619.5">-118</text><text x="349.8" y="619.5">-116</text><text x="425.9" y="619.5">-114</text><text x="502" y="619.5">-112</text>
<text x="645.4" y="619.5">-124</text><text x="721.5" y="619.5">-122</text><text x="797.6" y="619.5">-120</text><text x="873.7" y="619.5">-118</text><text x="949.8" y="619.5">-116</text><text x="1025.9" y="619.5">-114</text><text x="1102" y="619.5">-112</text>
<text transform="translate(14,42.7) rotate(-90)">45</text>
<text transform="translate(14,131.6) rotate(-90)">43</text>
<text transform="translate(14,220.5) rotate(-90)">41</text>
<text transform="translate(14,309.3) rotate(-90)">39</text>
<text transform="translate(14,398.2) rotate(-90)">37</text>
<text transform="translate(14,487.1) rotate(-90)">35</text>
<text transform="translate(14,576) rotate(-90)">33</text>
<text transform="translate(614,42.7) rotate(-90)">45</text>
<text transform="translate(614,131.6) rotate(-90)">43</text>
<text transform="translate(614,220.5) rotate(-90)">41</text>
<text transform="translate(614,309.3) rotate(-90)">39</text>
<text transform="translate(614,398.2) rotate(-90)">37</text>
<text transform="translate(614,487.1) rotate(-90)">35</text>
<text transform="translate(614,576) rotate(-90)">33</text>
<text x="271.5" y="641">Domain size: 37x32 | Max Model = 16 at (37, 29)</text>
<text x="271.5" y="654">Max Obs: 18</text>
<text x="871.5" y="641">Bias Summary: [ min, 25th %, 50th %, 75th %, max ]</text>
<text x="871.5" y="654" style="white-space:pre">[ -15,   -5.6,   -2.5,   -1,   9.3 ]</text>
<text x="549" y="53">ug/m3</text>
<text x="1149" y="53">ug/m3</text>
</g>

<rect x="545" y="57" width="8.3" height="508" fill="url(#gL)" stroke="#888" stroke-width="0.6"/>
<rect x="1145" y="57" width="8.3" height="508" fill="url(#gR)" stroke="#888" stroke-width="0.6"/>
<g class="tk" style="stroke:#555">
<path d="M553.3,62.3H560M553.3,112.1H560M553.3,161.9H560M553.3,211.7H560M553.3,261.5H560M553.3,311.3H560M553.3,361.1H560M553.3,410.9H560M553.3,460.7H560M553.3,510.5H560M553.3,560.3H560"/>
<path d="M1153.3,57.3H1160M1153.3,104H1160M1153.3,207.6H1160M1153.3,310H1160M1153.3,414H1160M1153.3,518H1160M1153.3,560H1160"/>
</g>
<g>
<text x="568" y="66.6">50</text><text x="568" y="116.4">45</text><text x="568" y="166.2">40</text><text x="568" y="216">35</text><text x="568" y="265.8">30</text><text x="568" y="315.6">25</text><text x="568" y="365.4">20</text><text x="568" y="415.2">15</text><text x="568" y="465">10</text><text x="568" y="514.8">5</text><text x="568" y="564.6">0</text>
<text x="1168" y="60">10000</text><text x="1168" y="108.3">40</text><text x="1168" y="211.9">20</text><text x="1168" y="314.3">0</text><text x="1168" y="418.3">-20</text><text x="1168" y="522.3">-40</text><text x="1168" y="564.3">-450</text>
</g>
</svg>
</body></html>
